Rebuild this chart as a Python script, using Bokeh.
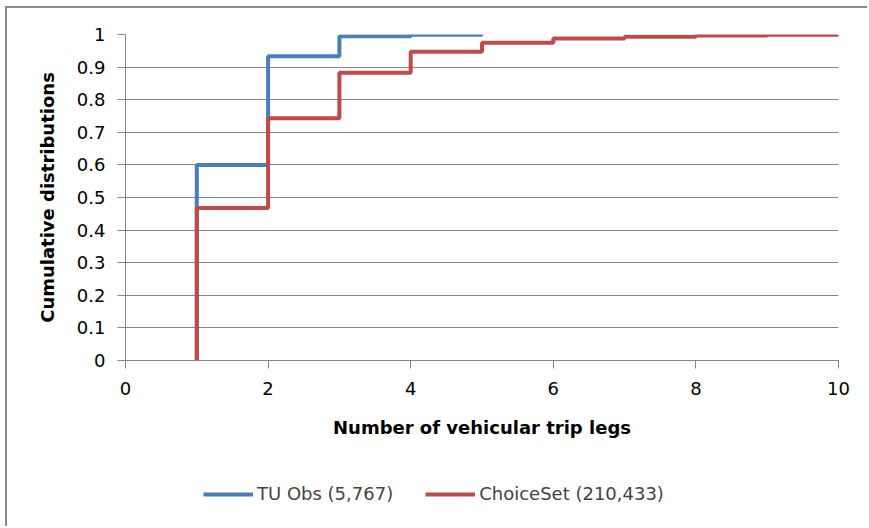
from bokeh.plotting import figure
from bokeh.models import Range1d, FixedTicker, Legend, LegendItem
from bokeh.layouts import column
from bokeh.embed import file_html
from bokeh.resources import INLINE

# Data
tu_legs = [1, 2, 3, 4, 5]
tu_cdf = [0.600, 0.933, 0.995, 0.999, 1.000]
cs_legs = [1, 2, 3, 4, 5, 6, 7, 8, 9, 10]
cs_cdf = [0.468, 0.743, 0.883, 0.947, 0.975, 0.988, 0.993, 0.997, 0.999, 1.000]
x_ticks = [0, 2, 4, 6, 8, 10]
y_ticks = [0, 0.1, 0.2, 0.3, 0.4, 0.5, 0.6, 0.7, 0.8, 0.9, 1.0]
tu_label = "TU Obs (5,767)"
cs_label = "ChoiceSet (210,433)"
x_title = "Number of vehicular trip legs"
y_title = "Cumulative distributions"

FONT = "DejaVu Sans"
GRAY = "#868686"
BORDER = "#8a8a8a"
BLUE = "#4A7EBB"
RED = "#BE4B48"
LW = 4

p = figure(width=862, height=442, output_backend="svg", toolbar_location=None,
           x_range=Range1d(0, 10), y_range=Range1d(0, 1),
           min_border_left=118, min_border_right=31, min_border_top=26,
           min_border_bottom=90,
           styles={"margin-left": "5px", "margin-top": "6px",
                   "border-top": f"2px solid {BORDER}",
                   "border-left": f"2px solid {BORDER}"})
p.outline_line_color = None
p.background_fill_color = "white"
p.border_fill_color = "white"

p.xgrid.grid_line_color = None
p.ygrid.grid_line_color = GRAY
p.ygrid.grid_line_width = 1
p.ygrid.ticker = FixedTicker(ticks=y_ticks)

p.xaxis.ticker = FixedTicker(ticks=x_ticks)
p.yaxis.ticker = FixedTicker(ticks=y_ticks)
p.yaxis.major_label_overrides = {0: "0", 1.0: "1"}
for ax in (p.xaxis, p.yaxis):
    ax.axis_line_color = GRAY
    ax.major_tick_line_color = GRAY
    ax.major_tick_out = 8
    ax.major_tick_in = 0
    ax.minor_tick_line_color = None
    ax.major_label_text_font = FONT
    ax.major_label_text_font_size = "18px"
    ax.major_label_text_color = "#000000"
    ax.axis_label_text_font = FONT
    ax.axis_label_text_font_style = "bold"
    ax.axis_label_text_font_size = "18px"
    ax.axis_label_text_color = "#000000"
p.xaxis.axis_label = x_title
p.yaxis.axis_label = y_title
p.xaxis.major_label_standoff = 13
p.xaxis.axis_label_standoff = 19
p.yaxis.major_label_standoff = 12
p.yaxis.axis_label_standoff = 16

tu_x = [tu_legs[0]] + tu_legs
tu_y = [0] + tu_cdf
cs_x = [cs_legs[0]] + cs_legs
cs_y = [0] + cs_cdf

p.step(tu_x, tu_y, mode="after", line_color=BLUE, line_width=LW)
p.step(cs_x, cs_y, mode="after", line_color=RED, line_width=LW)

# Legend strip below the chart (shares the chart's left border).
# Its renderers carry the same series but lie outside this strip's view range.
p2 = figure(width=862, height=78, output_backend="svg", toolbar_location=None,
            x_axis_location=None, y_axis_location=None,
            x_range=Range1d(0, 10), y_range=Range1d(5, 6),
            min_border=0, min_border_left=0, min_border_right=0,
            min_border_top=0, min_border_bottom=0,
            styles={"margin-left": "5px", "border-left": f"2px solid {BORDER}"})
p2.outline_line_color = None
p2.grid.grid_line_color = None
p2.background_fill_color = "white"
p2.border_fill_color = "white"
l_tu = p2.step(tu_x, tu_y, mode="after", line_color=BLUE, line_width=LW)
l_cs = p2.step(cs_x, cs_y, mode="after", line_color=RED, line_width=LW)

legend = Legend(items=[LegendItem(label=tu_label, renderers=[l_tu]),
                       LegendItem(label=cs_label, renderers=[l_cs])],
                orientation="horizontal", location=(78, 22),
                label_text_font=FONT, label_text_font_size="18px",
                glyph_width=50, glyph_height=20, label_standoff=4,
                spacing=32, padding=0, margin=0,
                border_line_color=None, background_fill_alpha=0)
p2.add_layout(legend, "center")

layout = column(p, p2, spacing=0)
open("out.html", "w").write(file_html(layout, INLINE))
